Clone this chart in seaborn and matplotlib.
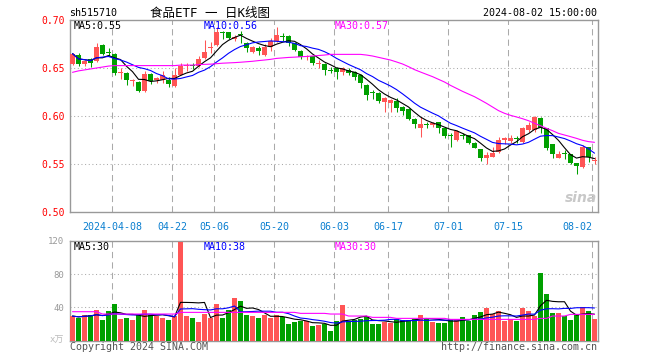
import numpy as np
import pandas as pd
import matplotlib
matplotlib.use("Agg")
import matplotlib.pyplot as plt
import seaborn as sns
from matplotlib.transforms import blended_transform_factory

sns.set_style("white")
plt.rcParams['font.family'] = ['DejaVu Sans Mono', 'Noto Sans CJK SC']

# ---------------- data ----------------
open_ = [0.654, 0.664, 0.654, 0.659, 0.657, 0.674, 0.667, 0.665, 0.645, 0.645,
         0.636, 0.635, 0.626, 0.644, 0.637, 0.638, 0.637, 0.631, 0.643, 0.652,
         0.653, 0.652, 0.660, 0.671, 0.674, 0.687, 0.688, 0.680, 0.685, 0.676,
         0.667, 0.671, 0.664, 0.672, 0.678, 0.683, 0.683, 0.676, 0.668, 0.661,
         0.662, 0.654, 0.654, 0.648, 0.650, 0.6455, 0.648, 0.646, 0.643, 0.632,
         0.6245, 0.624, 0.6142, 0.614, 0.6156, 0.609, 0.607, 0.597, 0.5872, 0.5917,
         0.5903, 0.5934, 0.5878, 0.5798, 0.575, 0.5795, 0.5802, 0.5722, 0.5656, 0.5559,
         0.5576, 0.5628, 0.575, 0.5743, 0.5769, 0.5733, 0.5854, 0.5854, 0.5983, 0.5872,
         0.5708, 0.5566, 0.5613, 0.5601, 0.5514, 0.5472, 0.5674, 0.553]
high = [0.666, 0.666, 0.658, 0.660, 0.676, 0.675, 0.671, 0.666, 0.650, 0.646,
        0.639, 0.636, 0.647, 0.645, 0.641, 0.647, 0.641, 0.650, 0.655, 0.655,
        0.655, 0.663, 0.679, 0.677, 0.693, 0.689, 0.688, 0.684, 0.689, 0.677,
        0.673, 0.673, 0.675, 0.681, 0.693, 0.686, 0.684, 0.677, 0.669, 0.664,
        0.663, 0.658, 0.655, 0.651, 0.651, 0.651, 0.650, 0.647, 0.644, 0.633,
        0.627, 0.625, 0.620, 0.618, 0.6184, 0.610, 0.608, 0.598, 0.5993, 0.594,
        0.594, 0.594, 0.588, 0.5819, 0.5854, 0.5819, 0.5805, 0.5725, 0.566, 0.5628,
        0.5681, 0.5778, 0.5778, 0.5802, 0.5792, 0.5889, 0.5941, 0.5995, 0.5993, 0.5875,
        0.571, 0.5635, 0.5646, 0.5605, 0.5515, 0.5698, 0.568, 0.5576]
low = [0.653, 0.652, 0.652, 0.651, 0.656, 0.664, 0.662, 0.643, 0.639, 0.632,
       0.631, 0.625, 0.625, 0.633, 0.634, 0.634, 0.630, 0.630, 0.643, 0.647,
       0.649, 0.651, 0.659, 0.666, 0.673, 0.680, 0.680, 0.678, 0.676, 0.667,
       0.666, 0.664, 0.662, 0.668, 0.677, 0.678, 0.673, 0.668, 0.659, 0.658,
       0.653, 0.650, 0.643, 0.645, 0.639, 0.643, 0.643, 0.637, 0.6295, 0.617,
       0.618, 0.614, 0.6045, 0.6045, 0.6045, 0.601, 0.596, 0.5872, 0.5778, 0.588,
       0.5885, 0.5819, 0.5767, 0.5681, 0.5743, 0.5757, 0.5708, 0.5665, 0.5535, 0.550,
       0.5569, 0.5618, 0.5708, 0.5722, 0.5722, 0.5722, 0.5837, 0.5837, 0.5826, 0.5646,
       0.5566, 0.5559, 0.5549, 0.550, 0.5396, 0.5462, 0.5524, 0.550]
close = [0.665, 0.654, 0.657, 0.655, 0.672, 0.665, 0.666, 0.645, 0.646, 0.637,
         0.637, 0.626, 0.644, 0.636, 0.640, 0.643, 0.633, 0.643, 0.652, 0.653,
         0.652, 0.659, 0.667, 0.672, 0.688, 0.686, 0.681, 0.682, 0.684, 0.671,
         0.672, 0.668, 0.672, 0.678, 0.684, 0.682, 0.676, 0.669, 0.661, 0.662,
         0.655, 0.655, 0.648, 0.647, 0.6455, 0.650, 0.6445, 0.641, 0.634, 0.622,
         0.624, 0.6155, 0.619, 0.6167, 0.6087, 0.6056, 0.597, 0.5917, 0.5917, 0.591,
         0.5931, 0.5872, 0.5792, 0.5795, 0.5844, 0.579, 0.5722, 0.567, 0.5559, 0.5594,
         0.5611, 0.575, 0.5767, 0.5767, 0.5765, 0.5872, 0.5906, 0.5993, 0.5872, 0.5663,
         0.5601, 0.5601, 0.5609, 0.5514, 0.5483, 0.5674, 0.5576, 0.5535]
volume = [29.6, 27.6, 30.8, 31.0, 36.8, 24.8, 35.6, 44.0, 26.0, 27.6,
          24.8, 30.6, 36.8, 30.8, 30.0, 27.6, 24.8, 29.6, 118.0, 29.6,
          26.8, 22.8, 32.4, 27.4, 44.0, 27.4, 36.8, 51.2, 48.0, 30.8,
          29.6, 27.4, 31.2, 27.6, 30.8, 28.0, 20.0, 22.8, 24.0, 23.6,
          17.8, 18.8, 20.0, 12.0, 24.0, 42.8, 24.0, 24.8, 26.0, 29.6,
          20.0, 20.0, 22.8, 21.6, 26.0, 24.8, 24.8, 26.0, 30.8, 26.8,
          22.8, 21.6, 20.8, 26.0, 26.0, 28.0, 23.6, 30.8, 34.0, 39.6,
          31.6, 35.6, 23.6, 25.6, 23.6, 39.6, 35.6, 29.6, 81.6, 56.0,
          33.2, 33.2, 29.8, 25.2, 31.8, 40.0, 36.0, 26.0]
price_ma30 = [0.6455, 0.647, 0.648, 0.649, 0.650, 0.651, 0.652, 0.6525, 0.6525, 0.6525,
              0.6525, 0.6525, 0.6525, 0.6525, 0.6525, 0.6525, 0.6525, 0.6525, 0.653, 0.653,
              0.653, 0.6535, 0.6538, 0.654, 0.6545, 0.655, 0.6553, 0.6556, 0.656, 0.6565,
              0.657, 0.6577, 0.6583, 0.659, 0.660, 0.6605, 0.661, 0.6613, 0.6617, 0.662,
              0.6625, 0.663, 0.6635, 0.6642, 0.6642, 0.6642, 0.6642, 0.6642, 0.6642, 0.6635,
              0.6625, 0.6611, 0.6597, 0.6583, 0.6563, 0.6542, 0.6514, 0.6483, 0.6458, 0.6434,
              0.6410, 0.6382, 0.6354, 0.6319, 0.6288, 0.6257, 0.6229, 0.6201, 0.6167, 0.6132,
              0.6094, 0.6056, 0.6028, 0.6007, 0.5990, 0.5972, 0.5951, 0.5924, 0.5899, 0.5872,
              0.5847, 0.5819, 0.5802, 0.5785, 0.5767, 0.5747, 0.5733, 0.5726]
vol_ma30 = [34.8, 34.8, 34.8, 34.8, 34.8, 32.0, 32.0, 32.0, 32.0, 32.0,
            32.0, 32.0, 32.0, 32.0, 32.0, 32.0, 32.0, 32.0, 34.0, 34.0,
            34.0, 34.0, 34.0, 34.0, 34.0, 34.0, 34.0, 34.0, 34.0, 34.0,
            34.0, 34.0, 34.0, 34.0, 34.0, 34.0, 34.0, 34.0, 32.8, 32.8,
            32.8, 32.8, 32.8, 32.0, 32.0, 32.0, 29.6, 29.6, 29.6, 29.6,
            28.0, 28.0, 28.0, 28.0, 26.8, 26.8, 26.8, 26.8, 26.8, 26.8,
            26.8, 26.8, 26.8, 25.6, 25.6, 25.6, 25.6, 25.6, 25.6, 25.6,
            25.6, 25.6, 25.6, 25.6, 25.6, 25.6, 25.6, 25.6, 26.8, 26.8,
            29.6, 29.6, 29.6, 31.6, 31.6, 31.6, 31.6, 31.6]
tick_idx = [7, 17, 24, 34, 44, 53, 63, 73, 87]
tick_labels = ["2024-04-08", "04-22", "05-06", "05-20", "06-03", "06-17", "07-01", "07-15", "08-02"]
price_ticks = [0.50, 0.55, 0.60, 0.65, 0.70]
price_tick_labels = ["0.50", "0.55", "0.60", "0.65", "0.70"]
vol_ticks = [40, 80, 120]
vol_tick_labels = ["40", "80", "120"]

# ---------------- frame ----------------
n = len(close)
df = pd.DataFrame({"idx": np.arange(n), "open": open_, "high": high, "low": low,
                   "close": close, "volume": volume,
                   "ma30": price_ma30, "vma30": vol_ma30})
df["ma5"] = df["close"].rolling(5, min_periods=1).mean()
df["ma10"] = df["close"].rolling(10, min_periods=1).mean()
df["vma5"] = df["volume"].rolling(5, min_periods=1).mean()
df["vma10"] = df["volume"].rolling(10, min_periods=1).mean()
df["dir"] = np.where(df["close"] >= df["open"], "up", "down")

RED = "#ff5555"
GREEN = "#00a000"
GRID = "#aaaaaa"
FRAME = "#999999"
pal = {"up": RED, "down": GREEN}
colors = [pal[d] for d in df["dir"]]

W, H = 660, 360
fig = plt.figure(figsize=(6.6, 3.6), dpi=100)
fig.patch.set_facecolor("white")

def px(x, y):
    return x / W, 1 - y / H

L, R = 70, 597.5
ax = fig.add_axes([L / W, 1 - 212 / H, (R - L) / W, 192 / H])
axv = fig.add_axes([L / W, 1 - 340.7 / H, (R - L) / W, 100 / H])
xlim = (-2.5 / 6, (R - 72.5) / 6)

for a in (ax, axv):
    a.set_facecolor("white")
    for s in a.spines.values():
        s.set_color(FRAME)
        s.set_linewidth(1.0)
    for i in tick_idx:
        a.axvline(i - 0.35, color=GRID, lw=0.75, ls=(0, (6, 4)), zorder=0)

for y in [0.55, 0.60, 0.65]:
    ax.axhline(y, color=GRID, lw=0.75, ls=(0, (1, 2.5)), zorder=0)
for y in [40, 80]:
    axv.axhline(y, color=GRID, lw=0.75, ls=(0, (1, 2.5)), zorder=0)

# ---------------- candles ----------------
ax.vlines(df["idx"], df["low"], df["high"], colors=colors, lw=0.75, zorder=2)
body_bottom = np.minimum(df["open"], df["close"])
body_h = np.maximum(np.abs(df["close"] - df["open"]), 0.0009)
ax.bar(df["idx"], body_h, bottom=body_bottom, width=0.8, color=colors,
       linewidth=0, zorder=3)

sns.lineplot(data=df, x="idx", y="ma5", color="black", lw=0.8, ax=ax, zorder=4)
sns.lineplot(data=df, x="idx", y="ma10", color="#0000ff", lw=0.8, ax=ax, zorder=4)
sns.lineplot(data=df, x="idx", y="ma30", color="#ff00ff", lw=0.8, ax=ax, zorder=4)

ax.set_xlim(*xlim)
ax.set_ylim(0.50, 0.70)

# ---------------- volume ----------------
sns.barplot(data=df, x="idx", y="volume", hue="dir", palette=pal, native_scale=True,
            dodge=False, legend=False, errorbar=None, saturation=1, width=0.8,
            linewidth=0, ax=axv, zorder=3)
sns.lineplot(data=df, x="idx", y="vma5", color="black", lw=0.8, ax=axv, zorder=4)
sns.lineplot(data=df, x="idx", y="vma10", color="#0000ff", lw=0.8, ax=axv, zorder=4)
sns.lineplot(data=df, x="idx", y="vma30", color="#ff00ff", lw=0.8, ax=axv, zorder=4)
axv.set_xlim(*xlim)
axv.set_ylim(0, 120)

# ---------------- ticks ----------------
for a in (ax, axv):
    a.set_xlabel("")
    a.set_ylabel("")
    a.set_xticks([])
    a.tick_params(axis="y", length=0, pad=4)
ax.set_yticks(price_ticks)
ax.set_yticklabels(price_tick_labels, color="#ff0000", fontsize=7)
axv.set_yticks(vol_ticks)
axv.set_yticklabels(vol_tick_labels, color="#999999", fontsize=6.5)

tr = blended_transform_factory(ax.transData, ax.transAxes)
for k, (i, lab) in enumerate(zip(tick_idx, tick_labels)):
    if k == len(tick_idx) - 1:
        ax.text(i - 0.3, -15 / 192, lab, transform=tr, ha="right", va="center",
                color="#0a7fd0", fontsize=7.2)
    else:
        ax.text(i - 0.35, -15 / 192, lab, transform=tr, ha="center", va="center",
                color="#0a7fd0", fontsize=7.2)

# ---------------- texts ----------------
fs = 7.2
fig.text(*px(69, 13), "sh515710", ha="left", va="center", fontsize=fs, color="black")
fig.text(*px(150, 13), "食品ETF 一 日K线图", ha="left", va="center", fontsize=9, color="black")
fig.text(*px(597, 13), "2024-08-02 15:00:00", ha="right", va="center", fontsize=fs, color="black")

fig.text(*px(74, 26), "MA5:0.55", ha="left", va="center", fontsize=fs, color="black")
fig.text(*px(204, 26), "MA10:0.56", ha="left", va="center", fontsize=fs, color="#0000ff")
fig.text(*px(335, 26), "MA30:0.57", ha="left", va="center", fontsize=fs, color="#ff00ff")

fig.text(*px(74, 246.5), "MA5:30", ha="left", va="center", fontsize=fs, color="black")
fig.text(*px(204, 246.5), "MA10:38", ha="left", va="center", fontsize=fs, color="#0000ff")
fig.text(*px(335, 246.5), "MA30:30", ha="left", va="center", fontsize=fs, color="#ff00ff")

fig.text(*px(64, 340), "x万", ha="right", va="center", fontsize=6.5, color="#bbbbbb")
fig.text(*px(69.5, 347), "Copyright 2024 SINA.COM", ha="left", va="center", fontsize=fs, color="#555555")
fig.text(*px(597, 347), "http://finance.sina.com.cn", ha="right", va="center", fontsize=fs, color="#555555")

fig.text(*px(581, 198), "sina", ha="center", va="center", fontsize=10, color="#c8c8c8",
         fontweight="bold", fontstyle="italic", family="DejaVu Sans")

fig.savefig("out.png", dpi=100, facecolor="white")
